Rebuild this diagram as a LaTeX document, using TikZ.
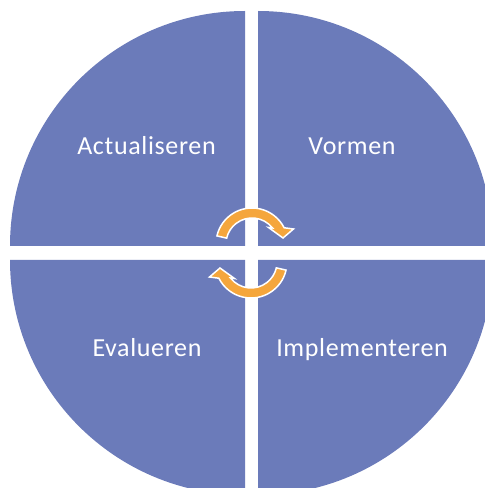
\documentclass[tikz,border=0pt]{standalone}
\usepackage{fontspec}
\setmainfont{Carlito}[LetterSpace=2.5]
\definecolor{quad}{RGB}{107,123,186}
\definecolor{arr}{RGB}{245,166,60}
\begin{document}
\begin{tikzpicture}[x=1pt,y=1pt,
  quadfill/.style={fill=quad,draw=none},
  lbl/.style={text=white,font=\fontsize{26}{31}\selectfont,inner sep=0pt,anchor=base},
  cyc/.style={fill=arr,draw=white,line width=1.5pt,line join=miter}]
\useasboundingbox (0,0) rectangle (485,488);
\begin{scope}
\clip (0,0) rectangle (485,488);
\fill[quadfill] (245,242) -- (10,242) arc[start angle=180,end angle=90,radius=235] -- cycle;
\fill[quadfill] (258,242) -- (258,477) arc[start angle=90,end angle=0,radius=235] -- cycle;
\fill[quadfill] (245,228) -- (10,228) arc[start angle=180,end angle=270,radius=235] -- cycle;
\fill[quadfill] (258,228) -- (493,228) arc[start angle=0,end angle=-90,radius=235] -- cycle;
\end{scope}
\node[lbl] (act) at (146.5,333) {Actualiseren};
\node[lbl] (vor) at (352,333) {Vormen};
\node[lbl] (eva) at (147,131) {Evalueren};
\node[lbl] (imp) at (362,131) {Implementeren};
\begin{scope}[shift={(252,244)}]
\draw[cyc] (167:36) arc[start angle=167,end angle=26.8,radius=36] -- (41.5,15) -- (31,6) -- (16.5,16.5) -- (38:26) arc[start angle=38,end angle=167,radius=26] -- cycle;
\end{scope}
\begin{scope}[shift={(251,226)},rotate=180]
\draw[cyc] (167:36) arc[start angle=167,end angle=26.8,radius=36] -- (41.5,15) -- (31,6) -- (16.5,16.5) -- (38:26) arc[start angle=38,end angle=167,radius=26] -- cycle;
\end{scope}
\end{tikzpicture}
\end{document}
